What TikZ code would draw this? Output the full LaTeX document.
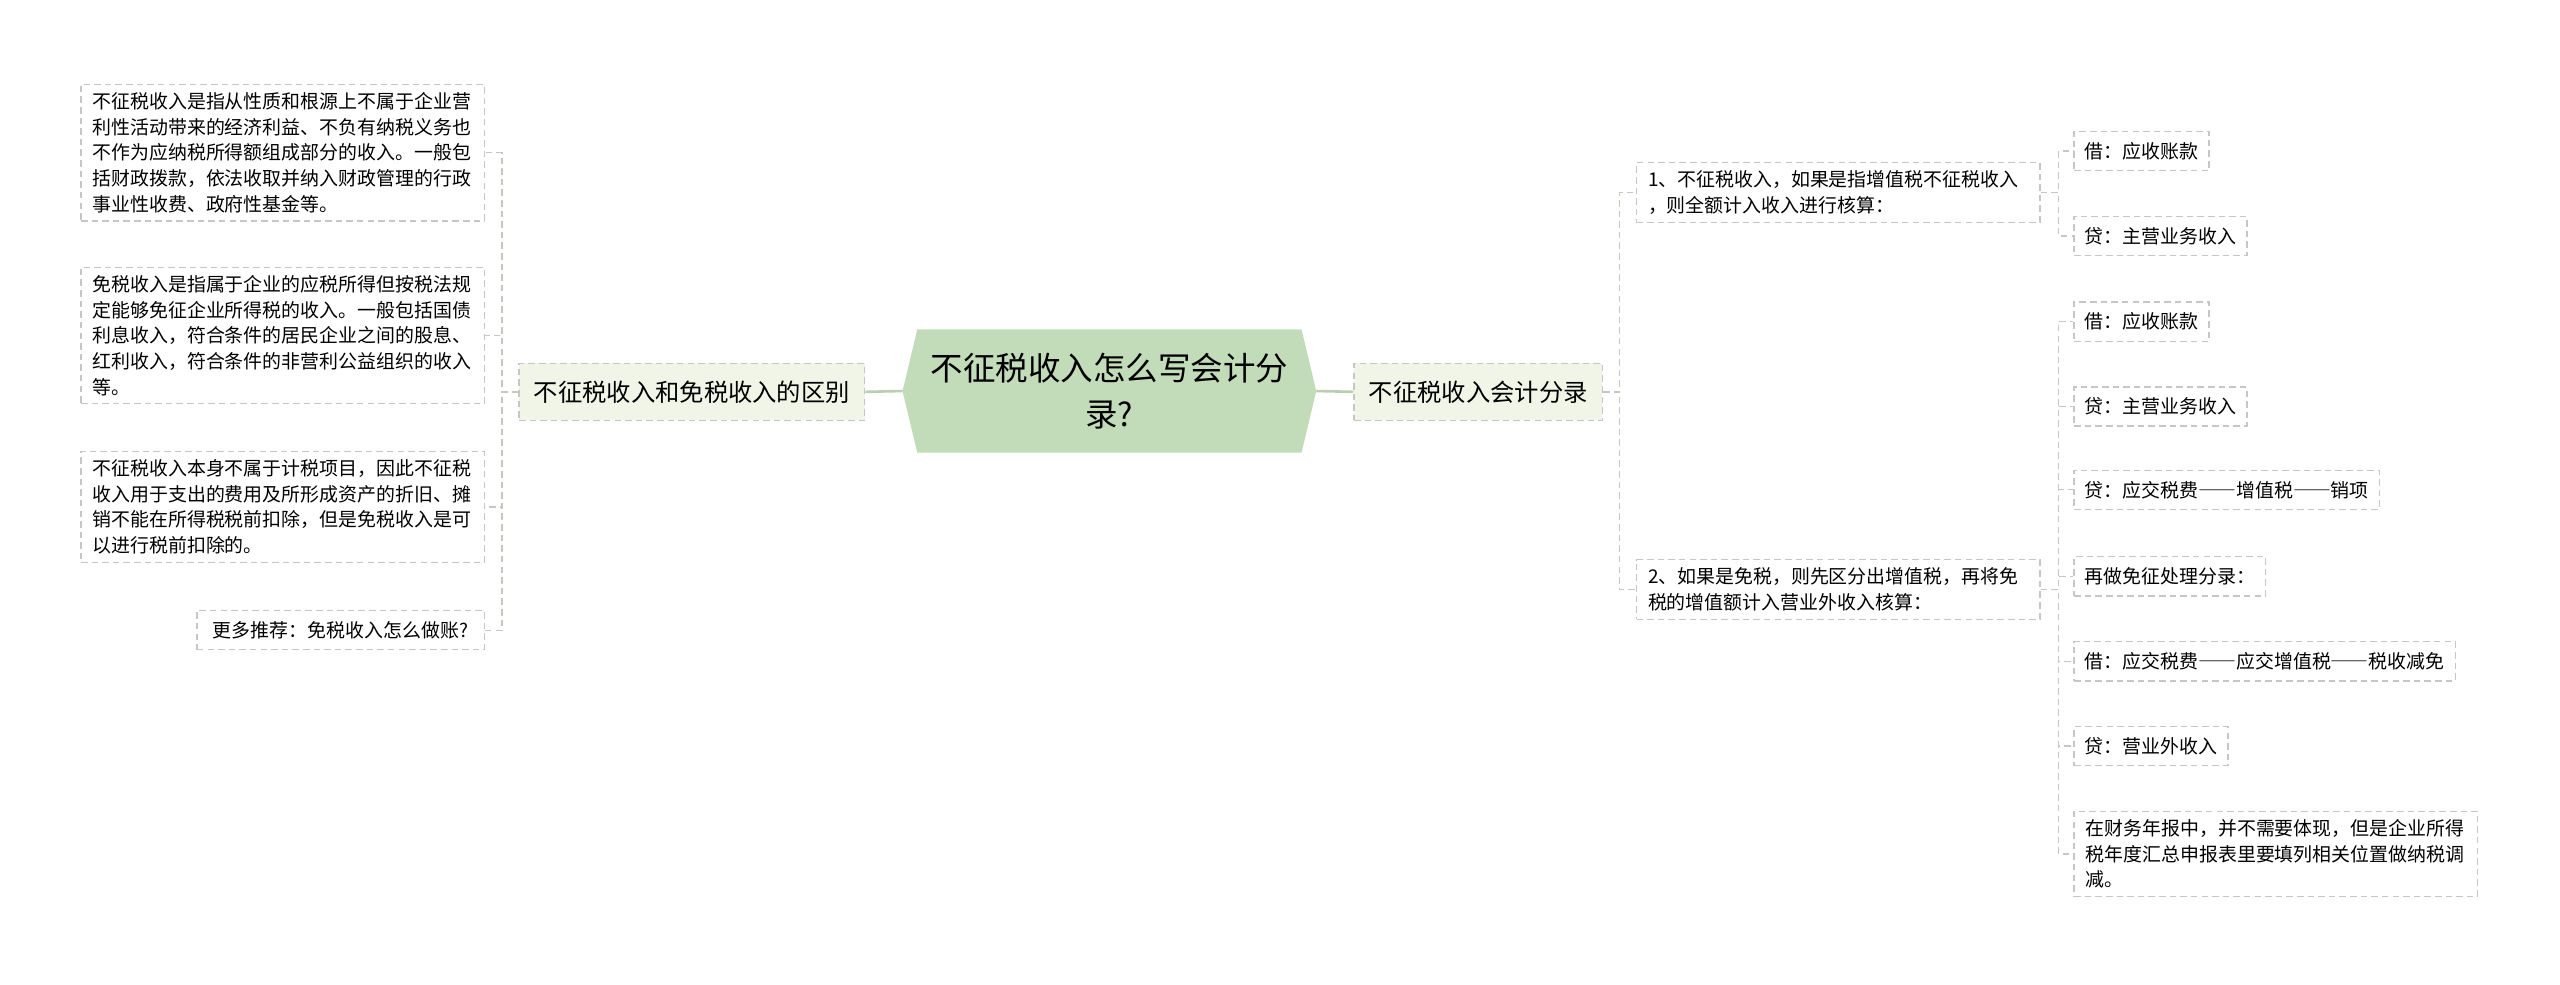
\documentclass[tikz,border=0pt]{standalone}
\usepackage{fontspec}
\newfontfamily\cjk{Noto Sans CJK SC}
\usetikzlibrary{backgrounds}
\definecolor{centerfill}{HTML}{C2DBB9}
\definecolor{mainfill}{HTML}{F0F5E7}
\definecolor{boxline}{HTML}{C6C6C6}
\definecolor{linkline}{HTML}{C4C9BF}
\definecolor{rootline}{HTML}{B9CFAF}
\newcommand\longdash{{\addfontfeatures{CharacterWidth=Full}——}}
\tikzset{
  leaf/.style={draw=boxline, line width=0.8pt, dash pattern=on 4pt off 2.5pt, fill=white,
    inner xsep=6.5pt, inner ysep=6.6pt, align=left,
    font=\cjk\fontsize{11.6}{15.7}\selectfont},
  wideleaf/.style={leaf, text width=233pt, inner xsep=7pt, inner ysep=5pt},
  mainbox/.style={draw=boxline, line width=0.8pt, dash pattern=on 4pt off 2.5pt, fill=mainfill,
    inner xsep=9pt, inner ysep=10.5pt, font=\cjk\fontsize{14.9}{18}\selectfont},
  centerbox/.style={minimum width=253pt, minimum height=75pt, align=center, inner sep=0pt,
    font=\cjk\fontsize{19.9}{28}\selectfont},
  link/.style={draw=linkline, line width=0.8pt, dash pattern=on 4pt off 2.5pt},
  rootlink/.style={draw=rootline, line width=1.6pt}
}
\begin{document}
\begin{tikzpicture}[x=1pt, y=-1pt]
  \useasboundingbox (0,0) rectangle (1568,603);

  % Center topic
  \node[centerbox] (C) at (679.5,239.5) {不征税收入怎么写会计分\\录?};
  \begin{scope}[on background layer]
    \fill[centerfill] ([xshift=9pt]C.north west) -- (C.west) -- ([xshift=9pt]C.south west)
      -- ([xshift=-9pt]C.south east) -- (C.east) -- ([xshift=-9pt]C.north east) -- cycle;
  \end{scope}

  % Left branch
  \node[mainbox, anchor=east] (L) at (530,240) {不征税收入和免税收入的区别};
  \draw[rootlink] (C.west) -- (L.east);

  \node[wideleaf, anchor=east] (L1) at (297,93.5) {不征税收入是指从性质和根源上不属于企业营\\利性活动带来的经济利益、不负有纳税义务也\\不作为应纳税所得额组成部分的收入。一般包\\括财政拨款，依法收取并纳入财政管理的行政\\事业性收费、政府性基金等。};
  \node[wideleaf, anchor=east] (L2) at (297,205.5) {免税收入是指属于企业的应税所得但按税法规\\定能够免征企业所得税的收入。一般包括国债\\利息收入，符合条件的居民企业之间的股息、\\红利收入，符合条件的非营利公益组织的收入\\等。};
  \node[wideleaf, anchor=east] (L3) at (297,310.5) {不征税收入本身不属于计税项目，因此不征税\\收入用于支出的费用及所形成资产的折旧、摊\\销不能在所得税税前扣除，但是免税收入是可\\以进行税前扣除的。};
  \node[leaf, anchor=east, minimum width=176pt] (L4) at (297,386) {更多推荐：免税收入怎么做账?};

  \foreach \n in {L1,L2,L3,L4}
    \draw[link] (L.west) -- ++(-10,0) |- (\n.east);

  % Right branch
  \node[mainbox, anchor=west] (R) at (829,240) {不征税收入会计分录};
  \draw[rootlink] (C.east) -- (R.west);

  \node[wideleaf, anchor=west] (R1) at (1002,118) {1、不征税收入，如果是指增值税不征税收入\\，则全额计入收入进行核算：};
  \node[wideleaf, anchor=west] (R2) at (1002,361) {2、如果是免税，则先区分出增值税，再将免\\税的增值额计入营业外收入核算：};

  \foreach \n in {R1,R2}
    \draw[link] (R.east) -- ++(10,0) |- (\n.west);

  % Entries under 1
  \node[leaf, anchor=west] (A1) at (1270,92.5) {借：应收账款};
  \node[leaf, anchor=west] (A2) at (1270,144.5) {贷：主营业务收入};

  \foreach \n in {A1,A2}
    \draw[link] (R1.east) -- ++(11,0) |- (\n.west);

  % Entries under 2
  \node[leaf, anchor=west] (B1) at (1270,197) {借：应收账款};
  \node[leaf, anchor=west] (B2) at (1270,249) {贷：主营业务收入};
  \node[leaf, anchor=west] (B3) at (1270,300) {贷：应交税费\longdash 增值税\longdash 销项};
  \node[leaf, anchor=west] (B4) at (1270,353) {再做免征处理分录：};
  \node[leaf, anchor=west] (B5) at (1270,405) {借：应交税费\longdash 应交增值税\longdash 税收减免};
  \node[leaf, anchor=west] (B6) at (1270,457) {贷：营业外收入};
  \node[wideleaf, anchor=west] (B7) at (1270,523) {在财务年报中，并不需要体现，但是企业所得\\税年度汇总申报表里要填列相关位置做纳税调\\减。};

  \foreach \n in {B1,B2,B3,B4,B5,B6,B7}
    \draw[link] (R2.east) -- ++(11,0) |- (\n.west);
\end{tikzpicture}
\end{document}
